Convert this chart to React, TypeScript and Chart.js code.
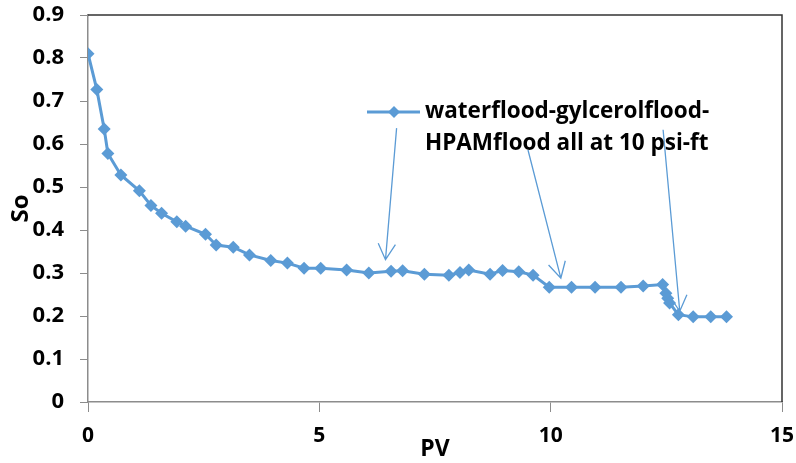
import React, { useEffect, useRef } from "react";
import { Chart, registerables } from "chart.js";

Chart.register(...registerables);

const pv = [0, 0.19, 0.35, 0.43, 0.71, 1.11, 1.36, 1.59, 1.92, 2.11, 2.54, 2.77, 3.14, 3.49, 3.95, 4.31, 4.67, 5.03, 5.59, 6.07, 6.55, 6.8, 7.27, 7.8, 8.04, 8.23, 8.69, 8.96, 9.31, 9.62, 9.97, 10.45, 10.96, 11.52, 12.0, 12.42, 12.49, 12.53, 12.57, 12.76, 13.08, 13.46, 13.8];
const so = [0.81, 0.727, 0.635, 0.578, 0.528, 0.491, 0.457, 0.439, 0.419, 0.409, 0.39, 0.365, 0.36, 0.342, 0.329, 0.323, 0.311, 0.311, 0.307, 0.3, 0.304, 0.305, 0.297, 0.295, 0.301, 0.307, 0.297, 0.306, 0.303, 0.295, 0.267, 0.267, 0.267, 0.267, 0.27, 0.273, 0.253, 0.241, 0.23, 0.203, 0.198, 0.198, 0.198];

const seriesLabel = ["waterflood-gylcerolflood-", "HPAMflood all at 10 psi-ft"];
const xTicks = [0, 5, 10, 15];
const yTicks = [0, 0.1, 0.2, 0.3, 0.4, 0.5, 0.6, 0.7, 0.8, 0.9];

// arrow annotations: [startX, startY, tipX, tipY] in data units
const arrowStartX = [6.67, 9.51, 12.43];
const arrowStartY = [0.637, 0.586, 0.633];
const arrowTipX = [6.43, 10.22, 12.79];
const arrowTipY = [0.331, 0.288, 0.211];

const BLUE = "#5B9BD5";
const FONT = "'Open Sans', 'Liberation Sans', sans-serif";

const overlay = {
  id: "overlay",
  afterDraw(chart: any) {
    const { ctx, chartArea: a, scales } = chart;
    const xs = scales.x, ys = scales.y;
    ctx.save();
    // top and right border
    ctx.strokeStyle = "#333";
    ctx.lineWidth = 1.5;
    ctx.beginPath();
    ctx.moveTo(a.left, a.top);
    ctx.lineTo(a.right, a.top);
    ctx.lineTo(a.right, a.bottom);
    ctx.stroke();

    // arrows
    ctx.strokeStyle = BLUE;
    ctx.lineWidth = 1.3;
    for (let i = 0; i < arrowTipX.length; i++) {
      const x0 = xs.getPixelForValue(arrowStartX[i]);
      const y0 = ys.getPixelForValue(arrowStartY[i]);
      const x1 = xs.getPixelForValue(arrowTipX[i]);
      const y1 = ys.getPixelForValue(arrowTipY[i]);
      ctx.beginPath();
      ctx.moveTo(x0, y0);
      ctx.lineTo(x1, y1);
      const ang = Math.atan2(y1 - y0, x1 - x0);
      const L = 18, w = 0.5;
      ctx.moveTo(x1 - L * Math.cos(ang - w), y1 - L * Math.sin(ang - w));
      ctx.lineTo(x1, y1);
      ctx.lineTo(x1 - L * Math.cos(ang + w), y1 - L * Math.sin(ang + w));
      ctx.stroke();
    }

    // legend
    const lx = xs.getPixelForValue(0) + 279;
    const ly = a.top + 97;
    ctx.strokeStyle = BLUE;
    ctx.lineWidth = 3;
    ctx.beginPath();
    ctx.moveTo(lx, ly);
    ctx.lineTo(lx + 53, ly);
    ctx.stroke();
    ctx.fillStyle = BLUE;
    const cx = lx + 27, r = 6;
    ctx.beginPath();
    ctx.moveTo(cx - r, ly);
    ctx.lineTo(cx, ly - r);
    ctx.lineTo(cx + r, ly);
    ctx.lineTo(cx, ly + r);
    ctx.closePath();
    ctx.fill();
    ctx.fillStyle = "#000";
    ctx.font = "bold 22.5px " + FONT;
    ctx.textBaseline = "middle";
    ctx.textAlign = "left";
    ctx.fillText(seriesLabel[0], lx + 58, ly);
    ctx.fillText(seriesLabel[1], lx + 58, ly + 32);
    ctx.restore();
  },
};

export default function App() {
  const ref = useRef<HTMLCanvasElement>(null);
  useEffect(() => {
    document.body.style.margin = "0";
    const chart = new Chart(ref.current!, {
      type: "line",
      data: {
        datasets: [
          {
            label: seriesLabel.join(""),
            data: pv.map((x, i) => ({ x, y: so[i] })),
            borderColor: BLUE,
            backgroundColor: BLUE,
            borderWidth: 3,
            pointStyle: "rectRot",
            pointRadius: 6.5,
            pointBorderWidth: 0,
            pointBackgroundColor: BLUE,
            tension: 0,
          },
        ],
      },
      options: {
        animation: false,
        responsive: false,
        layout: { padding: { left: 0, right: 14, top: 15, bottom: 0 } },
        plugins: { legend: { display: false }, tooltip: { enabled: false } },
        scales: {
          x: {
            type: "linear",
            min: 0,
            max: 15,
            afterBuildTicks: (s: any) => { s.ticks = xTicks.map((v) => ({ value: v })); },
            afterFit: (s: any) => { s.height = 61; s.paddingLeft = 0; s.paddingRight = 0; },
            grid: { drawOnChartArea: false, drawTicks: true, tickLength: 10, color: "#8c8c8c" },
            border: { color: "#8c8c8c", width: 1.5 },
            ticks: { color: "#000", font: { family: FONT, size: 21, weight: "bold" }, padding: 11 },
            title: { display: true, text: "PV", color: "#000", font: { family: FONT, size: 23, weight: "bold" }, padding: { top: 6, bottom: 0 } },
          },
          y: {
            type: "linear",
            min: 0,
            max: 0.9,
            afterBuildTicks: (s: any) => { s.ticks = yTicks.map((v) => ({ value: v })); },
            afterFit: (s: any) => { s.width = 88; s.paddingTop = 0; s.paddingBottom = 0; },
            grid: { drawOnChartArea: false, drawTicks: true, tickLength: 8, color: "#8c8c8c" },
            border: { color: "#8c8c8c", width: 1.5 },
            ticks: { color: "#000", font: { family: FONT, size: 22, weight: "bold" }, padding: 16, callback: (v: any) => String(Math.round(v * 10) / 10) },
            title: { display: true, text: "So", color: "#000", font: { family: FONT, size: 24, weight: "bold" }, padding: { top: 7, bottom: 0 } },
          },
        },
      },
      plugins: [overlay],
    });
    return () => chart.destroy();
  }, []);
  return <canvas ref={ref} width={796} height={463} style={{ display: "block" }} />;
}
